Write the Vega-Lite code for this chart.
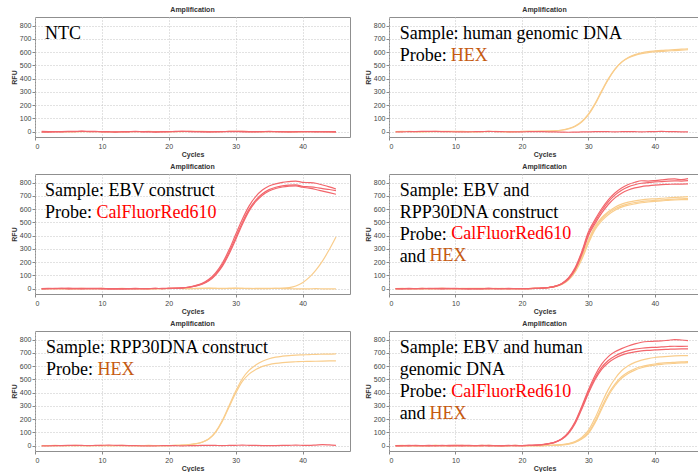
{
"$schema":"https://vega.github.io/schema/vega-lite/v6.json",
"background":"white",
"padding":{"left":9,"top":5,"right":0,"bottom":0},
"config":{
"font":"Liberation Sans",
"view":{"stroke":"#8f8f8f"},
"axis":{"labelFont":"Liberation Sans","labelFontSize":7,"labelColor":"#444444","labelOverlap":false,"titleFont":"Liberation Sans","titleFontSize":7,"titleFontWeight":"bold","titleColor":"#333333","tickColor":"#888888","tickSize":3,"domain":false,"gridColor":"#c4c4c4","gridDash":[1,2],"labelPadding":2,"titlePadding":1},
"axisY":{"labelPadding":1,"titlePadding":2},
"title":{"fontSize":7,"fontWeight":"bold","color":"#333333","offset":4,"font":"Liberation Sans"},
"line":{"strokeWidth":1.2,"interpolate":"monotone","clip":true},
"text":{"font":"Liberation Serif","fontSize":18,"align":"left","baseline":"alphabetic","lineBreak":"\n","lineHeight":22}
},
"datasets":{
"p1":[
{"s":"y1","c":1,"v":-2},{"s":"y1","c":2,"v":-1},{"s":"y1","c":3,"v":0},{"s":"y1","c":4,"v":-1},{"s":"y1","c":5,"v":-2},{"s":"y1","c":6,"v":-1},{"s":"y1","c":7,"v":0},{"s":"y1","c":8,"v":1},{"s":"y1","c":9,"v":0},{"s":"y1","c":10,"v":-1},{"s":"y1","c":11,"v":-2},{"s":"y1","c":12,"v":-3},{"s":"y1","c":13,"v":-2},{"s":"y1","c":14,"v":-1},{"s":"y1","c":15,"v":0},{"s":"y1","c":16,"v":1},{"s":"y1","c":17,"v":2},{"s":"y1","c":18,"v":1},{"s":"y1","c":19,"v":0},{"s":"y1","c":20,"v":-1},{"s":"y1","c":21,"v":0},{"s":"y1","c":22,"v":1},{"s":"y1","c":23,"v":2},{"s":"y1","c":24,"v":3},{"s":"y1","c":25,"v":2},{"s":"y1","c":26,"v":1},{"s":"y1","c":27,"v":0},{"s":"y1","c":28,"v":1},{"s":"y1","c":29,"v":2},{"s":"y1","c":30,"v":3},{"s":"y1","c":31,"v":2},{"s":"y1","c":32,"v":1},{"s":"y1","c":33,"v":0},{"s":"y1","c":34,"v":-1},{"s":"y1","c":35,"v":0},{"s":"y1","c":36,"v":1},{"s":"y1","c":37,"v":0},{"s":"y1","c":38,"v":-1},{"s":"y1","c":39,"v":-2},{"s":"y1","c":40,"v":-1},{"s":"y1","c":41,"v":0},{"s":"y1","c":42,"v":1},{"s":"y1","c":43,"v":0},{"s":"y1","c":44,"v":-1},{"s":"y1","c":45,"v":-2},
{"s":"r1","c":1,"v":-4},{"s":"r1","c":2,"v":-3},{"s":"r1","c":3,"v":-2},{"s":"r1","c":4,"v":-1},{"s":"r1","c":5,"v":0},{"s":"r1","c":6,"v":1},{"s":"r1","c":7,"v":2},{"s":"r1","c":8,"v":1},{"s":"r1","c":9,"v":0},{"s":"r1","c":10,"v":-1},{"s":"r1","c":11,"v":-2},{"s":"r1","c":12,"v":-3},{"s":"r1","c":13,"v":-2},{"s":"r1","c":14,"v":-1},{"s":"r1","c":15,"v":0},{"s":"r1","c":16,"v":-1},{"s":"r1","c":17,"v":-2},{"s":"r1","c":18,"v":-3},{"s":"r1","c":19,"v":-2},{"s":"r1","c":20,"v":0},{"s":"r1","c":21,"v":1},{"s":"r1","c":22,"v":2},{"s":"r1","c":23,"v":1},{"s":"r1","c":24,"v":0},{"s":"r1","c":25,"v":-1},{"s":"r1","c":26,"v":-2},{"s":"r1","c":27,"v":-1},{"s":"r1","c":28,"v":0},{"s":"r1","c":29,"v":1},{"s":"r1","c":30,"v":0},{"s":"r1","c":31,"v":-1},{"s":"r1","c":32,"v":-2},{"s":"r1","c":33,"v":-1},{"s":"r1","c":34,"v":0},{"s":"r1","c":35,"v":1},{"s":"r1","c":36,"v":0},{"s":"r1","c":37,"v":-1},{"s":"r1","c":38,"v":-2},{"s":"r1","c":39,"v":-1},{"s":"r1","c":40,"v":0},{"s":"r1","c":41,"v":1},{"s":"r1","c":42,"v":0},{"s":"r1","c":43,"v":-1},{"s":"r1","c":44,"v":-2},{"s":"r1","c":45,"v":-3},
{"s":"r2","c":1,"v":2},{"s":"r2","c":2,"v":1},{"s":"r2","c":3,"v":0},{"s":"r2","c":4,"v":1},{"s":"r2","c":5,"v":2},{"s":"r2","c":6,"v":3},{"s":"r2","c":7,"v":4},{"s":"r2","c":8,"v":3},{"s":"r2","c":9,"v":2},{"s":"r2","c":10,"v":1},{"s":"r2","c":11,"v":0},{"s":"r2","c":12,"v":-1},{"s":"r2","c":13,"v":0},{"s":"r2","c":14,"v":1},{"s":"r2","c":15,"v":2},{"s":"r2","c":16,"v":1},{"s":"r2","c":17,"v":0},{"s":"r2","c":18,"v":-1},{"s":"r2","c":19,"v":0},{"s":"r2","c":20,"v":1},{"s":"r2","c":21,"v":2},{"s":"r2","c":22,"v":3},{"s":"r2","c":23,"v":2},{"s":"r2","c":24,"v":1},{"s":"r2","c":25,"v":0},{"s":"r2","c":26,"v":-1},{"s":"r2","c":27,"v":0},{"s":"r2","c":28,"v":1},{"s":"r2","c":29,"v":2},{"s":"r2","c":30,"v":3},{"s":"r2","c":31,"v":2},{"s":"r2","c":32,"v":1},{"s":"r2","c":33,"v":0},{"s":"r2","c":34,"v":1},{"s":"r2","c":35,"v":2},{"s":"r2","c":36,"v":1},{"s":"r2","c":37,"v":0},{"s":"r2","c":38,"v":-1},{"s":"r2","c":39,"v":0},{"s":"r2","c":40,"v":1},{"s":"r2","c":41,"v":0},{"s":"r2","c":42,"v":-1},{"s":"r2","c":43,"v":0},{"s":"r2","c":44,"v":1},{"s":"r2","c":45,"v":0}
],
"p2":[
{"s":"y1","c":1,"v":1},{"s":"y1","c":2,"v":2},{"s":"y1","c":3,"v":1},{"s":"y1","c":4,"v":0},{"s":"y1","c":5,"v":-1},{"s":"y1","c":6,"v":0},{"s":"y1","c":7,"v":1},{"s":"y1","c":8,"v":2},{"s":"y1","c":9,"v":3},{"s":"y1","c":10,"v":2},{"s":"y1","c":11,"v":1},{"s":"y1","c":12,"v":0},{"s":"y1","c":13,"v":-1},{"s":"y1","c":14,"v":0},{"s":"y1","c":15,"v":1},{"s":"y1","c":16,"v":2},{"s":"y1","c":17,"v":1},{"s":"y1","c":18,"v":0},{"s":"y1","c":19,"v":1},{"s":"y1","c":20,"v":2},{"s":"y1","c":21,"v":3},{"s":"y1","c":22,"v":2},{"s":"y1","c":23,"v":3},{"s":"y1","c":24,"v":4},{"s":"y1","c":25,"v":6},{"s":"y1","c":26,"v":11},{"s":"y1","c":27,"v":21},{"s":"y1","c":28,"v":39},{"s":"y1","c":29,"v":72},{"s":"y1","c":30,"v":126},{"s":"y1","c":31,"v":205},{"s":"y1","c":32,"v":302},{"s":"y1","c":33,"v":394},{"s":"y1","c":34,"v":470},{"s":"y1","c":35,"v":525},{"s":"y1","c":36,"v":559},{"s":"y1","c":37,"v":581},{"s":"y1","c":38,"v":595},{"s":"y1","c":39,"v":604},{"s":"y1","c":40,"v":609},{"s":"y1","c":41,"v":613},{"s":"y1","c":42,"v":616},{"s":"y1","c":43,"v":619},{"s":"y1","c":44,"v":622},{"s":"y1","c":45,"v":625},
{"s":"y2","c":1,"v":0},{"s":"y2","c":2,"v":1},{"s":"y2","c":3,"v":2},{"s":"y2","c":4,"v":1},{"s":"y2","c":5,"v":0},{"s":"y2","c":6,"v":1},{"s":"y2","c":7,"v":2},{"s":"y2","c":8,"v":1},{"s":"y2","c":9,"v":0},{"s":"y2","c":10,"v":1},{"s":"y2","c":11,"v":2},{"s":"y2","c":12,"v":1},{"s":"y2","c":13,"v":0},{"s":"y2","c":14,"v":1},{"s":"y2","c":15,"v":2},{"s":"y2","c":16,"v":1},{"s":"y2","c":17,"v":0},{"s":"y2","c":18,"v":-1},{"s":"y2","c":19,"v":0},{"s":"y2","c":20,"v":1},{"s":"y2","c":21,"v":2},{"s":"y2","c":22,"v":3},{"s":"y2","c":23,"v":4},{"s":"y2","c":24,"v":5},{"s":"y2","c":25,"v":7},{"s":"y2","c":26,"v":13},{"s":"y2","c":27,"v":24},{"s":"y2","c":28,"v":43},{"s":"y2","c":29,"v":78},{"s":"y2","c":30,"v":133},{"s":"y2","c":31,"v":212},{"s":"y2","c":32,"v":308},{"s":"y2","c":33,"v":398},{"s":"y2","c":34,"v":472},{"s":"y2","c":35,"v":524},{"s":"y2","c":36,"v":556},{"s":"y2","c":37,"v":576},{"s":"y2","c":38,"v":589},{"s":"y2","c":39,"v":597},{"s":"y2","c":40,"v":602},{"s":"y2","c":41,"v":606},{"s":"y2","c":42,"v":609},{"s":"y2","c":43,"v":612},{"s":"y2","c":44,"v":615},{"s":"y2","c":45,"v":618},
{"s":"r1","c":1,"v":-2},{"s":"r1","c":2,"v":-1},{"s":"r1","c":3,"v":0},{"s":"r1","c":4,"v":1},{"s":"r1","c":5,"v":2},{"s":"r1","c":6,"v":3},{"s":"r1","c":7,"v":2},{"s":"r1","c":8,"v":1},{"s":"r1","c":9,"v":0},{"s":"r1","c":10,"v":-1},{"s":"r1","c":11,"v":-2},{"s":"r1","c":12,"v":-1},{"s":"r1","c":13,"v":0},{"s":"r1","c":14,"v":1},{"s":"r1","c":15,"v":2},{"s":"r1","c":16,"v":1},{"s":"r1","c":17,"v":0},{"s":"r1","c":18,"v":-1},{"s":"r1","c":19,"v":-2},{"s":"r1","c":20,"v":-1},{"s":"r1","c":21,"v":0},{"s":"r1","c":22,"v":1},{"s":"r1","c":23,"v":0},{"s":"r1","c":24,"v":-1},{"s":"r1","c":25,"v":-2},{"s":"r1","c":26,"v":-3},{"s":"r1","c":27,"v":-4},{"s":"r1","c":28,"v":-3},{"s":"r1","c":29,"v":-2},{"s":"r1","c":30,"v":-1},{"s":"r1","c":31,"v":0},{"s":"r1","c":32,"v":1},{"s":"r1","c":33,"v":0},{"s":"r1","c":34,"v":-1},{"s":"r1","c":35,"v":0},{"s":"r1","c":36,"v":1},{"s":"r1","c":37,"v":0},{"s":"r1","c":38,"v":-1},{"s":"r1","c":39,"v":0},{"s":"r1","c":40,"v":1},{"s":"r1","c":41,"v":2},{"s":"r1","c":42,"v":1},{"s":"r1","c":43,"v":0},{"s":"r1","c":44,"v":-1},{"s":"r1","c":45,"v":-2}
],
"p3":[
{"s":"y1","c":1,"v":0},{"s":"y1","c":2,"v":1},{"s":"y1","c":3,"v":0},{"s":"y1","c":4,"v":-1},{"s":"y1","c":5,"v":0},{"s":"y1","c":6,"v":1},{"s":"y1","c":7,"v":2},{"s":"y1","c":8,"v":1},{"s":"y1","c":9,"v":0},{"s":"y1","c":10,"v":-1},{"s":"y1","c":11,"v":0},{"s":"y1","c":12,"v":1},{"s":"y1","c":13,"v":2},{"s":"y1","c":14,"v":1},{"s":"y1","c":15,"v":0},{"s":"y1","c":16,"v":-1},{"s":"y1","c":17,"v":-2},{"s":"y1","c":18,"v":-1},{"s":"y1","c":19,"v":0},{"s":"y1","c":20,"v":1},{"s":"y1","c":21,"v":2},{"s":"y1","c":22,"v":1},{"s":"y1","c":23,"v":0},{"s":"y1","c":24,"v":1},{"s":"y1","c":25,"v":2},{"s":"y1","c":26,"v":3},{"s":"y1","c":27,"v":2},{"s":"y1","c":28,"v":1},{"s":"y1","c":29,"v":2},{"s":"y1","c":30,"v":3},{"s":"y1","c":31,"v":2},{"s":"y1","c":32,"v":1},{"s":"y1","c":33,"v":2},{"s":"y1","c":34,"v":3},{"s":"y1","c":35,"v":2},{"s":"y1","c":36,"v":3},{"s":"y1","c":37,"v":4},{"s":"y1","c":38,"v":8},{"s":"y1","c":39,"v":20},{"s":"y1","c":40,"v":45},{"s":"y1","c":41,"v":85},{"s":"y1","c":42,"v":140},{"s":"y1","c":43,"v":210},{"s":"y1","c":44,"v":295},{"s":"y1","c":45,"v":390},
{"s":"y2","c":1,"v":-1},{"s":"y2","c":2,"v":0},{"s":"y2","c":3,"v":1},{"s":"y2","c":4,"v":0},{"s":"y2","c":5,"v":-1},{"s":"y2","c":6,"v":-2},{"s":"y2","c":7,"v":-1},{"s":"y2","c":8,"v":0},{"s":"y2","c":9,"v":1},{"s":"y2","c":10,"v":2},{"s":"y2","c":11,"v":1},{"s":"y2","c":12,"v":0},{"s":"y2","c":13,"v":-1},{"s":"y2","c":14,"v":0},{"s":"y2","c":15,"v":1},{"s":"y2","c":16,"v":0},{"s":"y2","c":17,"v":-1},{"s":"y2","c":18,"v":0},{"s":"y2","c":19,"v":1},{"s":"y2","c":20,"v":2},{"s":"y2","c":21,"v":3},{"s":"y2","c":22,"v":2},{"s":"y2","c":23,"v":1},{"s":"y2","c":24,"v":2},{"s":"y2","c":25,"v":3},{"s":"y2","c":26,"v":4},{"s":"y2","c":27,"v":3},{"s":"y2","c":28,"v":2},{"s":"y2","c":29,"v":3},{"s":"y2","c":30,"v":4},{"s":"y2","c":31,"v":3},{"s":"y2","c":32,"v":2},{"s":"y2","c":33,"v":1},{"s":"y2","c":34,"v":0},{"s":"y2","c":35,"v":1},{"s":"y2","c":36,"v":2},{"s":"y2","c":37,"v":1},{"s":"y2","c":38,"v":0},{"s":"y2","c":39,"v":-1},{"s":"y2","c":40,"v":-2},{"s":"y2","c":41,"v":-1},{"s":"y2","c":42,"v":0},{"s":"y2","c":43,"v":-1},{"s":"y2","c":44,"v":-2},{"s":"y2","c":45,"v":-1},
{"s":"r1","c":1,"v":0},{"s":"r1","c":2,"v":1},{"s":"r1","c":3,"v":2},{"s":"r1","c":4,"v":3},{"s":"r1","c":5,"v":4},{"s":"r1","c":6,"v":3},{"s":"r1","c":7,"v":2},{"s":"r1","c":8,"v":1},{"s":"r1","c":9,"v":0},{"s":"r1","c":10,"v":-1},{"s":"r1","c":11,"v":-2},{"s":"r1","c":12,"v":-1},{"s":"r1","c":13,"v":0},{"s":"r1","c":14,"v":1},{"s":"r1","c":15,"v":2},{"s":"r1","c":16,"v":1},{"s":"r1","c":17,"v":0},{"s":"r1","c":18,"v":1},{"s":"r1","c":19,"v":2},{"s":"r1","c":20,"v":3},{"s":"r1","c":21,"v":4},{"s":"r1","c":22,"v":7},{"s":"r1","c":23,"v":13},{"s":"r1","c":24,"v":24},{"s":"r1","c":25,"v":41},{"s":"r1","c":26,"v":71},{"s":"r1","c":27,"v":120},{"s":"r1","c":28,"v":192},{"s":"r1","c":29,"v":291},{"s":"r1","c":30,"v":408},{"s":"r1","c":31,"v":524},{"s":"r1","c":32,"v":623},{"s":"r1","c":33,"v":695},{"s":"r1","c":34,"v":744},{"s":"r1","c":35,"v":774},{"s":"r1","c":36,"v":791},{"s":"r1","c":37,"v":802},{"s":"r1","c":38,"v":808},{"s":"r1","c":39,"v":812},{"s":"r1","c":40,"v":802},{"s":"r1","c":41,"v":800},{"s":"r1","c":42,"v":795},{"s":"r1","c":43,"v":782},{"s":"r1","c":44,"v":768},{"s":"r1","c":45,"v":752},
{"s":"r2","c":1,"v":1},{"s":"r2","c":2,"v":2},{"s":"r2","c":3,"v":1},{"s":"r2","c":4,"v":0},{"s":"r2","c":5,"v":-1},{"s":"r2","c":6,"v":0},{"s":"r2","c":7,"v":1},{"s":"r2","c":8,"v":2},{"s":"r2","c":9,"v":3},{"s":"r2","c":10,"v":2},{"s":"r2","c":11,"v":1},{"s":"r2","c":12,"v":0},{"s":"r2","c":13,"v":-1},{"s":"r2","c":14,"v":-2},{"s":"r2","c":15,"v":-1},{"s":"r2","c":16,"v":0},{"s":"r2","c":17,"v":1},{"s":"r2","c":18,"v":2},{"s":"r2","c":19,"v":1},{"s":"r2","c":20,"v":2},{"s":"r2","c":21,"v":3},{"s":"r2","c":22,"v":6},{"s":"r2","c":23,"v":11},{"s":"r2","c":24,"v":21},{"s":"r2","c":25,"v":37},{"s":"r2","c":26,"v":64},{"s":"r2","c":27,"v":110},{"s":"r2","c":28,"v":178},{"s":"r2","c":29,"v":273},{"s":"r2","c":30,"v":385},{"s":"r2","c":31,"v":500},{"s":"r2","c":32,"v":598},{"s":"r2","c":33,"v":668},{"s":"r2","c":34,"v":716},{"s":"r2","c":35,"v":747},{"s":"r2","c":36,"v":765},{"s":"r2","c":37,"v":775},{"s":"r2","c":38,"v":781},{"s":"r2","c":39,"v":783},{"s":"r2","c":40,"v":772},{"s":"r2","c":41,"v":768},{"s":"r2","c":42,"v":763},{"s":"r2","c":43,"v":755},{"s":"r2","c":44,"v":748},{"s":"r2","c":45,"v":740},
{"s":"r3","c":1,"v":-1},{"s":"r3","c":2,"v":0},{"s":"r3","c":3,"v":1},{"s":"r3","c":4,"v":2},{"s":"r3","c":5,"v":1},{"s":"r3","c":6,"v":0},{"s":"r3","c":7,"v":-1},{"s":"r3","c":8,"v":0},{"s":"r3","c":9,"v":1},{"s":"r3","c":10,"v":0},{"s":"r3","c":11,"v":-1},{"s":"r3","c":12,"v":-2},{"s":"r3","c":13,"v":-1},{"s":"r3","c":14,"v":0},{"s":"r3","c":15,"v":1},{"s":"r3","c":16,"v":0},{"s":"r3","c":17,"v":1},{"s":"r3","c":18,"v":2},{"s":"r3","c":19,"v":1},{"s":"r3","c":20,"v":2},{"s":"r3","c":21,"v":3},{"s":"r3","c":22,"v":5},{"s":"r3","c":23,"v":10},{"s":"r3","c":24,"v":19},{"s":"r3","c":25,"v":34},{"s":"r3","c":26,"v":59},{"s":"r3","c":27,"v":103},{"s":"r3","c":28,"v":168},{"s":"r3","c":29,"v":260},{"s":"r3","c":30,"v":370},{"s":"r3","c":31,"v":485},{"s":"r3","c":32,"v":585},{"s":"r3","c":33,"v":656},{"s":"r3","c":34,"v":705},{"s":"r3","c":35,"v":737},{"s":"r3","c":36,"v":756},{"s":"r3","c":37,"v":767},{"s":"r3","c":38,"v":773},{"s":"r3","c":39,"v":776},{"s":"r3","c":40,"v":765},{"s":"r3","c":41,"v":758},{"s":"r3","c":42,"v":748},{"s":"r3","c":43,"v":736},{"s":"r3","c":44,"v":724},{"s":"r3","c":45,"v":712}
],
"p4":[
{"s":"y1","c":1,"v":1},{"s":"y1","c":2,"v":2},{"s":"y1","c":3,"v":1},{"s":"y1","c":4,"v":0},{"s":"y1","c":5,"v":-1},{"s":"y1","c":6,"v":0},{"s":"y1","c":7,"v":1},{"s":"y1","c":8,"v":2},{"s":"y1","c":9,"v":1},{"s":"y1","c":10,"v":0},{"s":"y1","c":11,"v":1},{"s":"y1","c":12,"v":2},{"s":"y1","c":13,"v":3},{"s":"y1","c":14,"v":2},{"s":"y1","c":15,"v":1},{"s":"y1","c":16,"v":0},{"s":"y1","c":17,"v":-1},{"s":"y1","c":18,"v":0},{"s":"y1","c":19,"v":1},{"s":"y1","c":20,"v":0},{"s":"y1","c":21,"v":1},{"s":"y1","c":22,"v":2},{"s":"y1","c":23,"v":4},{"s":"y1","c":24,"v":9},{"s":"y1","c":25,"v":18},{"s":"y1","c":26,"v":36},{"s":"y1","c":27,"v":75},{"s":"y1","c":28,"v":140},{"s":"y1","c":29,"v":240},{"s":"y1","c":30,"v":365},{"s":"y1","c":31,"v":470},{"s":"y1","c":32,"v":535},{"s":"y1","c":33,"v":580},{"s":"y1","c":34,"v":615},{"s":"y1","c":35,"v":638},{"s":"y1","c":36,"v":653},{"s":"y1","c":37,"v":663},{"s":"y1","c":38,"v":670},{"s":"y1","c":39,"v":675},{"s":"y1","c":40,"v":678},{"s":"y1","c":41,"v":682},{"s":"y1","c":42,"v":685},{"s":"y1","c":43,"v":688},{"s":"y1","c":44,"v":691},{"s":"y1","c":45,"v":694},
{"s":"y2","c":1,"v":0},{"s":"y2","c":2,"v":1},{"s":"y2","c":3,"v":0},{"s":"y2","c":4,"v":1},{"s":"y2","c":5,"v":2},{"s":"y2","c":6,"v":1},{"s":"y2","c":7,"v":0},{"s":"y2","c":8,"v":-1},{"s":"y2","c":9,"v":0},{"s":"y2","c":10,"v":1},{"s":"y2","c":11,"v":2},{"s":"y2","c":12,"v":1},{"s":"y2","c":13,"v":0},{"s":"y2","c":14,"v":-1},{"s":"y2","c":15,"v":0},{"s":"y2","c":16,"v":1},{"s":"y2","c":17,"v":2},{"s":"y2","c":18,"v":1},{"s":"y2","c":19,"v":0},{"s":"y2","c":20,"v":1},{"s":"y2","c":21,"v":1},{"s":"y2","c":22,"v":2},{"s":"y2","c":23,"v":4},{"s":"y2","c":24,"v":8},{"s":"y2","c":25,"v":17},{"s":"y2","c":26,"v":34},{"s":"y2","c":27,"v":70},{"s":"y2","c":28,"v":132},{"s":"y2","c":29,"v":230},{"s":"y2","c":30,"v":352},{"s":"y2","c":31,"v":458},{"s":"y2","c":32,"v":525},{"s":"y2","c":33,"v":570},{"s":"y2","c":34,"v":603},{"s":"y2","c":35,"v":625},{"s":"y2","c":36,"v":640},{"s":"y2","c":37,"v":650},{"s":"y2","c":38,"v":657},{"s":"y2","c":39,"v":662},{"s":"y2","c":40,"v":666},{"s":"y2","c":41,"v":670},{"s":"y2","c":42,"v":673},{"s":"y2","c":43,"v":676},{"s":"y2","c":44,"v":678},{"s":"y2","c":45,"v":680},
{"s":"y3","c":1,"v":-1},{"s":"y3","c":2,"v":0},{"s":"y3","c":3,"v":1},{"s":"y3","c":4,"v":0},{"s":"y3","c":5,"v":-1},{"s":"y3","c":6,"v":0},{"s":"y3","c":7,"v":1},{"s":"y3","c":8,"v":2},{"s":"y3","c":9,"v":1},{"s":"y3","c":10,"v":0},{"s":"y3","c":11,"v":-1},{"s":"y3","c":12,"v":0},{"s":"y3","c":13,"v":1},{"s":"y3","c":14,"v":0},{"s":"y3","c":15,"v":1},{"s":"y3","c":16,"v":2},{"s":"y3","c":17,"v":1},{"s":"y3","c":18,"v":0},{"s":"y3","c":19,"v":1},{"s":"y3","c":20,"v":0},{"s":"y3","c":21,"v":1},{"s":"y3","c":22,"v":2},{"s":"y3","c":23,"v":3},{"s":"y3","c":24,"v":7},{"s":"y3","c":25,"v":15},{"s":"y3","c":26,"v":31},{"s":"y3","c":27,"v":65},{"s":"y3","c":28,"v":125},{"s":"y3","c":29,"v":220},{"s":"y3","c":30,"v":340},{"s":"y3","c":31,"v":445},{"s":"y3","c":32,"v":512},{"s":"y3","c":33,"v":558},{"s":"y3","c":34,"v":592},{"s":"y3","c":35,"v":615},{"s":"y3","c":36,"v":630},{"s":"y3","c":37,"v":640},{"s":"y3","c":38,"v":648},{"s":"y3","c":39,"v":654},{"s":"y3","c":40,"v":659},{"s":"y3","c":41,"v":663},{"s":"y3","c":42,"v":666},{"s":"y3","c":43,"v":669},{"s":"y3","c":44,"v":671},{"s":"y3","c":45,"v":672},
{"s":"r1","c":1,"v":0},{"s":"r1","c":2,"v":1},{"s":"r1","c":3,"v":2},{"s":"r1","c":4,"v":1},{"s":"r1","c":5,"v":0},{"s":"r1","c":6,"v":1},{"s":"r1","c":7,"v":2},{"s":"r1","c":8,"v":3},{"s":"r1","c":9,"v":2},{"s":"r1","c":10,"v":1},{"s":"r1","c":11,"v":0},{"s":"r1","c":12,"v":-1},{"s":"r1","c":13,"v":0},{"s":"r1","c":14,"v":1},{"s":"r1","c":15,"v":2},{"s":"r1","c":16,"v":1},{"s":"r1","c":17,"v":0},{"s":"r1","c":18,"v":-1},{"s":"r1","c":19,"v":0},{"s":"r1","c":20,"v":1},{"s":"r1","c":21,"v":1},{"s":"r1","c":22,"v":2},{"s":"r1","c":23,"v":4},{"s":"r1","c":24,"v":9},{"s":"r1","c":25,"v":19},{"s":"r1","c":26,"v":40},{"s":"r1","c":27,"v":81},{"s":"r1","c":28,"v":157},{"s":"r1","c":29,"v":278},{"s":"r1","c":30,"v":427},{"s":"r1","c":31,"v":521},{"s":"r1","c":32,"v":603},{"s":"r1","c":33,"v":670},{"s":"r1","c":34,"v":722},{"s":"r1","c":35,"v":760},{"s":"r1","c":36,"v":786},{"s":"r1","c":37,"v":803},{"s":"r1","c":38,"v":814},{"s":"r1","c":39,"v":812},{"s":"r1","c":40,"v":815},{"s":"r1","c":41,"v":820},{"s":"r1","c":42,"v":826},{"s":"r1","c":43,"v":828},{"s":"r1","c":44,"v":822},{"s":"r1","c":45,"v":830},
{"s":"r2","c":1,"v":1},{"s":"r2","c":2,"v":0},{"s":"r2","c":3,"v":-1},{"s":"r2","c":4,"v":0},{"s":"r2","c":5,"v":1},{"s":"r2","c":6,"v":2},{"s":"r2","c":7,"v":1},{"s":"r2","c":8,"v":0},{"s":"r2","c":9,"v":1},{"s":"r2","c":10,"v":2},{"s":"r2","c":11,"v":1},{"s":"r2","c":12,"v":0},{"s":"r2","c":13,"v":-1},{"s":"r2","c":14,"v":-2},{"s":"r2","c":15,"v":-1},{"s":"r2","c":16,"v":0},{"s":"r2","c":17,"v":1},{"s":"r2","c":18,"v":2},{"s":"r2","c":19,"v":1},{"s":"r2","c":20,"v":0},{"s":"r2","c":21,"v":1},{"s":"r2","c":22,"v":2},{"s":"r2","c":23,"v":4},{"s":"r2","c":24,"v":8},{"s":"r2","c":25,"v":18},{"s":"r2","c":26,"v":38},{"s":"r2","c":27,"v":77},{"s":"r2","c":28,"v":150},{"s":"r2","c":29,"v":268},{"s":"r2","c":30,"v":412},{"s":"r2","c":31,"v":505},{"s":"r2","c":32,"v":588},{"s":"r2","c":33,"v":655},{"s":"r2","c":34,"v":706},{"s":"r2","c":35,"v":743},{"s":"r2","c":36,"v":768},{"s":"r2","c":37,"v":784},{"s":"r2","c":38,"v":795},{"s":"r2","c":39,"v":800},{"s":"r2","c":40,"v":805},{"s":"r2","c":41,"v":808},{"s":"r2","c":42,"v":812},{"s":"r2","c":43,"v":813},{"s":"r2","c":44,"v":812},{"s":"r2","c":45,"v":815},
{"s":"r3","c":1,"v":0},{"s":"r3","c":2,"v":-1},{"s":"r3","c":3,"v":0},{"s":"r3","c":4,"v":1},{"s":"r3","c":5,"v":2},{"s":"r3","c":6,"v":1},{"s":"r3","c":7,"v":0},{"s":"r3","c":8,"v":-1},{"s":"r3","c":9,"v":0},{"s":"r3","c":10,"v":1},{"s":"r3","c":11,"v":0},{"s":"r3","c":12,"v":-1},{"s":"r3","c":13,"v":0},{"s":"r3","c":14,"v":1},{"s":"r3","c":15,"v":2},{"s":"r3","c":16,"v":1},{"s":"r3","c":17,"v":0},{"s":"r3","c":18,"v":1},{"s":"r3","c":19,"v":0},{"s":"r3","c":20,"v":1},{"s":"r3","c":21,"v":1},{"s":"r3","c":22,"v":2},{"s":"r3","c":23,"v":4},{"s":"r3","c":24,"v":8},{"s":"r3","c":25,"v":17},{"s":"r3","c":26,"v":35},{"s":"r3","c":27,"v":73},{"s":"r3","c":28,"v":142},{"s":"r3","c":29,"v":255},{"s":"r3","c":30,"v":398},{"s":"r3","c":31,"v":490},{"s":"r3","c":32,"v":570},{"s":"r3","c":33,"v":635},{"s":"r3","c":34,"v":685},{"s":"r3","c":35,"v":720},{"s":"r3","c":36,"v":744},{"s":"r3","c":37,"v":760},{"s":"r3","c":38,"v":770},{"s":"r3","c":39,"v":776},{"s":"r3","c":40,"v":781},{"s":"r3","c":41,"v":785},{"s":"r3","c":42,"v":787},{"s":"r3","c":43,"v":789},{"s":"r3","c":44,"v":789},{"s":"r3","c":45,"v":790}
],
"p5":[
{"s":"y1","c":1,"v":1},{"s":"y1","c":2,"v":0},{"s":"y1","c":3,"v":-1},{"s":"y1","c":4,"v":0},{"s":"y1","c":5,"v":1},{"s":"y1","c":6,"v":2},{"s":"y1","c":7,"v":1},{"s":"y1","c":8,"v":0},{"s":"y1","c":9,"v":1},{"s":"y1","c":10,"v":2},{"s":"y1","c":11,"v":1},{"s":"y1","c":12,"v":0},{"s":"y1","c":13,"v":-1},{"s":"y1","c":14,"v":0},{"s":"y1","c":15,"v":1},{"s":"y1","c":16,"v":0},{"s":"y1","c":17,"v":-1},{"s":"y1","c":18,"v":0},{"s":"y1","c":19,"v":1},{"s":"y1","c":20,"v":1},{"s":"y1","c":21,"v":2},{"s":"y1","c":22,"v":4},{"s":"y1","c":23,"v":8},{"s":"y1","c":24,"v":15},{"s":"y1","c":25,"v":27},{"s":"y1","c":26,"v":52},{"s":"y1","c":27,"v":105},{"s":"y1","c":28,"v":190},{"s":"y1","c":29,"v":300},{"s":"y1","c":30,"v":410},{"s":"y1","c":31,"v":505},{"s":"y1","c":32,"v":568},{"s":"y1","c":33,"v":608},{"s":"y1","c":34,"v":637},{"s":"y1","c":35,"v":656},{"s":"y1","c":36,"v":668},{"s":"y1","c":37,"v":675},{"s":"y1","c":38,"v":680},{"s":"y1","c":39,"v":683},{"s":"y1","c":40,"v":685},{"s":"y1","c":41,"v":687},{"s":"y1","c":42,"v":689},{"s":"y1","c":43,"v":690},{"s":"y1","c":44,"v":691},{"s":"y1","c":45,"v":692},
{"s":"y2","c":1,"v":0},{"s":"y2","c":2,"v":1},{"s":"y2","c":3,"v":2},{"s":"y2","c":4,"v":1},{"s":"y2","c":5,"v":0},{"s":"y2","c":6,"v":-1},{"s":"y2","c":7,"v":0},{"s":"y2","c":8,"v":1},{"s":"y2","c":9,"v":0},{"s":"y2","c":10,"v":-1},{"s":"y2","c":11,"v":0},{"s":"y2","c":12,"v":1},{"s":"y2","c":13,"v":2},{"s":"y2","c":14,"v":1},{"s":"y2","c":15,"v":0},{"s":"y2","c":16,"v":1},{"s":"y2","c":17,"v":2},{"s":"y2","c":18,"v":1},{"s":"y2","c":19,"v":0},{"s":"y2","c":20,"v":1},{"s":"y2","c":21,"v":2},{"s":"y2","c":22,"v":4},{"s":"y2","c":23,"v":7},{"s":"y2","c":24,"v":14},{"s":"y2","c":25,"v":26},{"s":"y2","c":26,"v":50},{"s":"y2","c":27,"v":100},{"s":"y2","c":28,"v":182},{"s":"y2","c":29,"v":290},{"s":"y2","c":30,"v":395},{"s":"y2","c":31,"v":485},{"s":"y2","c":32,"v":540},{"s":"y2","c":33,"v":574},{"s":"y2","c":34,"v":598},{"s":"y2","c":35,"v":612},{"s":"y2","c":36,"v":621},{"s":"y2","c":37,"v":627},{"s":"y2","c":38,"v":631},{"s":"y2","c":39,"v":633},{"s":"y2","c":40,"v":635},{"s":"y2","c":41,"v":636},{"s":"y2","c":42,"v":637},{"s":"y2","c":43,"v":638},{"s":"y2","c":44,"v":639},{"s":"y2","c":45,"v":640},
{"s":"r1","c":1,"v":-2},{"s":"r1","c":2,"v":-1},{"s":"r1","c":3,"v":0},{"s":"r1","c":4,"v":1},{"s":"r1","c":5,"v":2},{"s":"r1","c":6,"v":3},{"s":"r1","c":7,"v":2},{"s":"r1","c":8,"v":1},{"s":"r1","c":9,"v":2},{"s":"r1","c":10,"v":3},{"s":"r1","c":11,"v":4},{"s":"r1","c":12,"v":3},{"s":"r1","c":13,"v":2},{"s":"r1","c":14,"v":1},{"s":"r1","c":15,"v":0},{"s":"r1","c":16,"v":-1},{"s":"r1","c":17,"v":-2},{"s":"r1","c":18,"v":-1},{"s":"r1","c":19,"v":0},{"s":"r1","c":20,"v":1},{"s":"r1","c":21,"v":0},{"s":"r1","c":22,"v":-1},{"s":"r1","c":23,"v":0},{"s":"r1","c":24,"v":1},{"s":"r1","c":25,"v":2},{"s":"r1","c":26,"v":3},{"s":"r1","c":27,"v":2},{"s":"r1","c":28,"v":1},{"s":"r1","c":29,"v":2},{"s":"r1","c":30,"v":3},{"s":"r1","c":31,"v":4},{"s":"r1","c":32,"v":3},{"s":"r1","c":33,"v":2},{"s":"r1","c":34,"v":1},{"s":"r1","c":35,"v":0},{"s":"r1","c":36,"v":1},{"s":"r1","c":37,"v":2},{"s":"r1","c":38,"v":3},{"s":"r1","c":39,"v":4},{"s":"r1","c":40,"v":3},{"s":"r1","c":41,"v":2},{"s":"r1","c":42,"v":5},{"s":"r1","c":43,"v":8},{"s":"r1","c":44,"v":6},{"s":"r1","c":45,"v":3}
],
"p6":[
{"s":"y1","c":1,"v":0},{"s":"y1","c":2,"v":1},{"s":"y1","c":3,"v":0},{"s":"y1","c":4,"v":-1},{"s":"y1","c":5,"v":0},{"s":"y1","c":6,"v":1},{"s":"y1","c":7,"v":2},{"s":"y1","c":8,"v":1},{"s":"y1","c":9,"v":0},{"s":"y1","c":10,"v":1},{"s":"y1","c":11,"v":2},{"s":"y1","c":12,"v":1},{"s":"y1","c":13,"v":0},{"s":"y1","c":14,"v":-1},{"s":"y1","c":15,"v":0},{"s":"y1","c":16,"v":1},{"s":"y1","c":17,"v":0},{"s":"y1","c":18,"v":1},{"s":"y1","c":19,"v":2},{"s":"y1","c":20,"v":1},{"s":"y1","c":21,"v":0},{"s":"y1","c":22,"v":1},{"s":"y1","c":23,"v":1},{"s":"y1","c":24,"v":2},{"s":"y1","c":25,"v":4},{"s":"y1","c":26,"v":8},{"s":"y1","c":27,"v":16},{"s":"y1","c":28,"v":32},{"s":"y1","c":29,"v":62},{"s":"y1","c":30,"v":115},{"s":"y1","c":31,"v":208},{"s":"y1","c":32,"v":320},{"s":"y1","c":33,"v":425},{"s":"y1","c":34,"v":505},{"s":"y1","c":35,"v":565},{"s":"y1","c":36,"v":603},{"s":"y1","c":37,"v":628},{"s":"y1","c":38,"v":645},{"s":"y1","c":39,"v":657},{"s":"y1","c":40,"v":665},{"s":"y1","c":41,"v":670},{"s":"y1","c":42,"v":674},{"s":"y1","c":43,"v":677},{"s":"y1","c":44,"v":679},{"s":"y1","c":45,"v":680},
{"s":"y2","c":1,"v":1},{"s":"y2","c":2,"v":2},{"s":"y2","c":3,"v":1},{"s":"y2","c":4,"v":0},{"s":"y2","c":5,"v":1},{"s":"y2","c":6,"v":0},{"s":"y2","c":7,"v":-1},{"s":"y2","c":8,"v":0},{"s":"y2","c":9,"v":1},{"s":"y2","c":10,"v":2},{"s":"y2","c":11,"v":1},{"s":"y2","c":12,"v":0},{"s":"y2","c":13,"v":1},{"s":"y2","c":14,"v":2},{"s":"y2","c":15,"v":1},{"s":"y2","c":16,"v":0},{"s":"y2","c":17,"v":-1},{"s":"y2","c":18,"v":0},{"s":"y2","c":19,"v":1},{"s":"y2","c":20,"v":0},{"s":"y2","c":21,"v":1},{"s":"y2","c":22,"v":1},{"s":"y2","c":23,"v":1},{"s":"y2","c":24,"v":2},{"s":"y2","c":25,"v":4},{"s":"y2","c":26,"v":7},{"s":"y2","c":27,"v":14},{"s":"y2","c":28,"v":28},{"s":"y2","c":29,"v":55},{"s":"y2","c":30,"v":100},{"s":"y2","c":31,"v":185},{"s":"y2","c":32,"v":290},{"s":"y2","c":33,"v":390},{"s":"y2","c":34,"v":465},{"s":"y2","c":35,"v":520},{"s":"y2","c":36,"v":556},{"s":"y2","c":37,"v":580},{"s":"y2","c":38,"v":597},{"s":"y2","c":39,"v":608},{"s":"y2","c":40,"v":616},{"s":"y2","c":41,"v":622},{"s":"y2","c":42,"v":626},{"s":"y2","c":43,"v":629},{"s":"y2","c":44,"v":632},{"s":"y2","c":45,"v":634},
{"s":"y3","c":1,"v":0},{"s":"y3","c":2,"v":-1},{"s":"y3","c":3,"v":0},{"s":"y3","c":4,"v":1},{"s":"y3","c":5,"v":0},{"s":"y3","c":6,"v":1},{"s":"y3","c":7,"v":2},{"s":"y3","c":8,"v":1},{"s":"y3","c":9,"v":0},{"s":"y3","c":10,"v":-1},{"s":"y3","c":11,"v":0},{"s":"y3","c":12,"v":1},{"s":"y3","c":13,"v":0},{"s":"y3","c":14,"v":1},{"s":"y3","c":15,"v":2},{"s":"y3","c":16,"v":1},{"s":"y3","c":17,"v":0},{"s":"y3","c":18,"v":1},{"s":"y3","c":19,"v":0},{"s":"y3","c":20,"v":1},{"s":"y3","c":21,"v":1},{"s":"y3","c":22,"v":1},{"s":"y3","c":23,"v":1},{"s":"y3","c":24,"v":2},{"s":"y3","c":25,"v":3},{"s":"y3","c":26,"v":6},{"s":"y3","c":27,"v":12},{"s":"y3","c":28,"v":25},{"s":"y3","c":29,"v":50},{"s":"y3","c":30,"v":92},{"s":"y3","c":31,"v":172},{"s":"y3","c":32,"v":275},{"s":"y3","c":33,"v":375},{"s":"y3","c":34,"v":452},{"s":"y3","c":35,"v":508},{"s":"y3","c":36,"v":545},{"s":"y3","c":37,"v":570},{"s":"y3","c":38,"v":588},{"s":"y3","c":39,"v":600},{"s":"y3","c":40,"v":608},{"s":"y3","c":41,"v":614},{"s":"y3","c":42,"v":618},{"s":"y3","c":43,"v":621},{"s":"y3","c":44,"v":624},{"s":"y3","c":45,"v":626},
{"s":"r1","c":1,"v":0},{"s":"r1","c":2,"v":1},{"s":"r1","c":3,"v":2},{"s":"r1","c":4,"v":1},{"s":"r1","c":5,"v":0},{"s":"r1","c":6,"v":-1},{"s":"r1","c":7,"v":0},{"s":"r1","c":8,"v":1},{"s":"r1","c":9,"v":2},{"s":"r1","c":10,"v":3},{"s":"r1","c":11,"v":2},{"s":"r1","c":12,"v":1},{"s":"r1","c":13,"v":0},{"s":"r1","c":14,"v":1},{"s":"r1","c":15,"v":2},{"s":"r1","c":16,"v":1},{"s":"r1","c":17,"v":0},{"s":"r1","c":18,"v":1},{"s":"r1","c":19,"v":2},{"s":"r1","c":20,"v":1},{"s":"r1","c":21,"v":2},{"s":"r1","c":22,"v":4},{"s":"r1","c":23,"v":8},{"s":"r1","c":24,"v":16},{"s":"r1","c":25,"v":28},{"s":"r1","c":26,"v":52},{"s":"r1","c":27,"v":100},{"s":"r1","c":28,"v":180},{"s":"r1","c":29,"v":295},{"s":"r1","c":30,"v":420},{"s":"r1","c":31,"v":530},{"s":"r1","c":32,"v":615},{"s":"r1","c":33,"v":672},{"s":"r1","c":34,"v":708},{"s":"r1","c":35,"v":732},{"s":"r1","c":36,"v":752},{"s":"r1","c":37,"v":768},{"s":"r1","c":38,"v":780},{"s":"r1","c":39,"v":786},{"s":"r1","c":40,"v":788},{"s":"r1","c":41,"v":790},{"s":"r1","c":42,"v":795},{"s":"r1","c":43,"v":800},{"s":"r1","c":44,"v":797},{"s":"r1","c":45,"v":793},
{"s":"r2","c":1,"v":1},{"s":"r2","c":2,"v":0},{"s":"r2","c":3,"v":-1},{"s":"r2","c":4,"v":0},{"s":"r2","c":5,"v":1},{"s":"r2","c":6,"v":2},{"s":"r2","c":7,"v":1},{"s":"r2","c":8,"v":0},{"s":"r2","c":9,"v":-1},{"s":"r2","c":10,"v":0},{"s":"r2","c":11,"v":1},{"s":"r2","c":12,"v":2},{"s":"r2","c":13,"v":1},{"s":"r2","c":14,"v":0},{"s":"r2","c":15,"v":-1},{"s":"r2","c":16,"v":0},{"s":"r2","c":17,"v":1},{"s":"r2","c":18,"v":2},{"s":"r2","c":19,"v":1},{"s":"r2","c":20,"v":1},{"s":"r2","c":21,"v":2},{"s":"r2","c":22,"v":4},{"s":"r2","c":23,"v":7},{"s":"r2","c":24,"v":15},{"s":"r2","c":25,"v":27},{"s":"r2","c":26,"v":50},{"s":"r2","c":27,"v":96},{"s":"r2","c":28,"v":173},{"s":"r2","c":29,"v":285},{"s":"r2","c":30,"v":405},{"s":"r2","c":31,"v":510},{"s":"r2","c":32,"v":590},{"s":"r2","c":33,"v":642},{"s":"r2","c":34,"v":676},{"s":"r2","c":35,"v":700},{"s":"r2","c":36,"v":717},{"s":"r2","c":37,"v":728},{"s":"r2","c":38,"v":735},{"s":"r2","c":39,"v":740},{"s":"r2","c":40,"v":742},{"s":"r2","c":41,"v":745},{"s":"r2","c":42,"v":748},{"s":"r2","c":43,"v":750},{"s":"r2","c":44,"v":749},{"s":"r2","c":45,"v":750},
{"s":"r3","c":1,"v":-1},{"s":"r3","c":2,"v":0},{"s":"r3","c":3,"v":1},{"s":"r3","c":4,"v":2},{"s":"r3","c":5,"v":1},{"s":"r3","c":6,"v":0},{"s":"r3","c":7,"v":1},{"s":"r3","c":8,"v":2},{"s":"r3","c":9,"v":1},{"s":"r3","c":10,"v":0},{"s":"r3","c":11,"v":-1},{"s":"r3","c":12,"v":0},{"s":"r3","c":13,"v":1},{"s":"r3","c":14,"v":2},{"s":"r3","c":15,"v":1},{"s":"r3","c":16,"v":0},{"s":"r3","c":17,"v":-1},{"s":"r3","c":18,"v":0},{"s":"r3","c":19,"v":1},{"s":"r3","c":20,"v":1},{"s":"r3","c":21,"v":2},{"s":"r3","c":22,"v":3},{"s":"r3","c":23,"v":7},{"s":"r3","c":24,"v":14},{"s":"r3","c":25,"v":25},{"s":"r3","c":26,"v":48},{"s":"r3","c":27,"v":92},{"s":"r3","c":28,"v":166},{"s":"r3","c":29,"v":275},{"s":"r3","c":30,"v":393},{"s":"r3","c":31,"v":497},{"s":"r3","c":32,"v":575},{"s":"r3","c":33,"v":626},{"s":"r3","c":34,"v":660},{"s":"r3","c":35,"v":683},{"s":"r3","c":36,"v":698},{"s":"r3","c":37,"v":708},{"s":"r3","c":38,"v":715},{"s":"r3","c":39,"v":719},{"s":"r3","c":40,"v":722},{"s":"r3","c":41,"v":725},{"s":"r3","c":42,"v":727},{"s":"r3","c":43,"v":729},{"s":"r3","c":44,"v":730},{"s":"r3","c":45,"v":730}
]
},
"spacing":4,
"vconcat":[
{"hconcat":[
{"width":315,"height":120,"title":"Amplification","layer":[
{"data":{"name":"p1"},"mark":"line","encoding":{"x":{"field":"c","type":"quantitative","scale":{"domain":[0,47.1],"nice":false},"axis":{"values":[0,10,20,30,40],"title":"Cycles"}},"y":{"field":"v","type":"quantitative","scale":{"domain":[-40,865],"nice":false,"zero":false},"axis":{"values":[0,100,200,300,400,500,600,700,800],"title":"RFU"}},"color":{"field":"s","type":"nominal","scale":{"domain":["y1","y2","y3","r1","r2","r3"],"range":["#f9cd8c","#f9cd8c","#f9cd8c","#f2666c","#f2666c","#f2666c"]},"legend":null}}},
{"data":{"values":[{"t":"NTC"}]},"mark":{"type":"text","color":"#000000"},"encoding":{"x":{"datum":1.5,"axis":{"values":[0,10,20,30,40],"title":"Cycles"}},"y":{"datum":697,"axis":{"values":[0,100,200,300,400,500,600,700,800],"title":"RFU"}},"text":{"field":"t"}}}
]},
{"width":311,"height":120,"title":"Amplification","layer":[
{"data":{"name":"p2"},"mark":"line","encoding":{"x":{"field":"c","type":"quantitative","scale":{"domain":[0,46.8],"nice":false},"axis":{"values":[0,10,20,30,40],"title":"Cycles"}},"y":{"field":"v","type":"quantitative","scale":{"domain":[-40,865],"nice":false,"zero":false},"axis":{"values":[0,100,200,300,400,500,600,700,800],"title":"RFU"}},"color":{"field":"s","type":"nominal","scale":{"domain":["y1","y2","y3","r1","r2","r3"],"range":["#f9cd8c","#f9cd8c","#f9cd8c","#f2666c","#f2666c","#f2666c"]},"legend":null}}},
{"data":{"values":[{"t":"Sample: human genomic DNA\nProbe:"}]},"mark":{"type":"text","color":"#000000"},"encoding":{"x":{"datum":1.6,"axis":{"values":[0,10,20,30,40],"title":"Cycles"}},"y":{"datum":697,"axis":{"values":[0,100,200,300,400,500,600,700,800],"title":"RFU"}},"text":{"field":"t"}}},
{"data":{"values":[{"t":"HEX"}]},"mark":{"type":"text","color":"#c55a11"},"encoding":{"x":{"datum":9.3,"axis":{"values":[0,10,20,30,40],"title":"Cycles"}},"y":{"datum":532,"axis":{"values":[0,100,200,300,400,500,600,700,800],"title":"RFU"}},"text":{"field":"t"}}}
]}
],"spacing":12},
{"hconcat":[
{"width":315,"height":120,"title":"Amplification","layer":[
{"data":{"name":"p3"},"mark":"line","encoding":{"x":{"field":"c","type":"quantitative","scale":{"domain":[0,47.1],"nice":false},"axis":{"values":[0,10,20,30,40],"title":"Cycles"}},"y":{"field":"v","type":"quantitative","scale":{"domain":[-40,865],"nice":false,"zero":false},"axis":{"values":[0,100,200,300,400,500,600,700,800],"title":"RFU"}},"color":{"field":"s","type":"nominal","scale":{"domain":["y1","y2","y3","r1","r2","r3"],"range":["#f9cd8c","#f9cd8c","#f9cd8c","#f2666c","#f2666c","#f2666c"]},"legend":null}}},
{"data":{"values":[{"t":"Sample: EBV construct\nProbe:"}]},"mark":{"type":"text","color":"#000000"},"encoding":{"x":{"datum":1.5,"axis":{"values":[0,10,20,30,40],"title":"Cycles"}},"y":{"datum":697,"axis":{"values":[0,100,200,300,400,500,600,700,800],"title":"RFU"}},"text":{"field":"t"}}},
{"data":{"values":[{"t":"CalFluorRed610"}]},"mark":{"type":"text","color":"#ff0000"},"encoding":{"x":{"datum":9.2,"axis":{"values":[0,10,20,30,40],"title":"Cycles"}},"y":{"datum":532,"axis":{"values":[0,100,200,300,400,500,600,700,800],"title":"RFU"}},"text":{"field":"t"}}}
]},
{"width":311,"height":120,"title":"Amplification","layer":[
{"data":{"name":"p4"},"mark":"line","encoding":{"x":{"field":"c","type":"quantitative","scale":{"domain":[0,46.8],"nice":false},"axis":{"values":[0,10,20,30,40],"title":"Cycles"}},"y":{"field":"v","type":"quantitative","scale":{"domain":[-40,865],"nice":false,"zero":false},"axis":{"values":[0,100,200,300,400,500,600,700,800],"title":"RFU"}},"color":{"field":"s","type":"nominal","scale":{"domain":["y1","y2","y3","r1","r2","r3"],"range":["#f9cd8c","#f9cd8c","#f9cd8c","#f2666c","#f2666c","#f2666c"]},"legend":null}}},
{"data":{"values":[{"t":"Sample: EBV and\nRPP30DNA construct\nProbe:\nand"}]},"mark":{"type":"text","color":"#000000"},"encoding":{"x":{"datum":1.6,"axis":{"values":[0,10,20,30,40],"title":"Cycles"}},"y":{"datum":702,"axis":{"values":[0,100,200,300,400,500,600,700,800],"title":"RFU"}},"text":{"field":"t"}}},
{"data":{"values":[{"t":"CalFluorRed610"}]},"mark":{"type":"text","color":"#ff0000"},"encoding":{"x":{"datum":9.35,"axis":{"values":[0,10,20,30,40],"title":"Cycles"}},"y":{"datum":372,"axis":{"values":[0,100,200,300,400,500,600,700,800],"title":"RFU"}},"text":{"field":"t"}}},
{"data":{"values":[{"t":"HEX"}]},"mark":{"type":"text","color":"#c55a11"},"encoding":{"x":{"datum":6.1,"axis":{"values":[0,10,20,30,40],"title":"Cycles"}},"y":{"datum":207,"axis":{"values":[0,100,200,300,400,500,600,700,800],"title":"RFU"}},"text":{"field":"t"}}}
]}
],"spacing":12},
{"hconcat":[
{"width":315,"height":120,"title":"Amplification","layer":[
{"data":{"name":"p5"},"mark":"line","encoding":{"x":{"field":"c","type":"quantitative","scale":{"domain":[0,47.1],"nice":false},"axis":{"values":[0,10,20,30,40],"title":"Cycles"}},"y":{"field":"v","type":"quantitative","scale":{"domain":[-40,865],"nice":false,"zero":false},"axis":{"values":[0,100,200,300,400,500,600,700,800],"title":"RFU"}},"color":{"field":"s","type":"nominal","scale":{"domain":["y1","y2","y3","r1","r2","r3"],"range":["#f9cd8c","#f9cd8c","#f9cd8c","#f2666c","#f2666c","#f2666c"]},"legend":null}}},
{"data":{"values":[{"t":"Sample: RPP30DNA construct\nProbe:"}]},"mark":{"type":"text","color":"#000000"},"encoding":{"x":{"datum":1.65,"axis":{"values":[0,10,20,30,40],"title":"Cycles"}},"y":{"datum":697,"axis":{"values":[0,100,200,300,400,500,600,700,800],"title":"RFU"}},"text":{"field":"t"}}},
{"data":{"values":[{"t":"HEX"}]},"mark":{"type":"text","color":"#c55a11"},"encoding":{"x":{"datum":9.35,"axis":{"values":[0,10,20,30,40],"title":"Cycles"}},"y":{"datum":532,"axis":{"values":[0,100,200,300,400,500,600,700,800],"title":"RFU"}},"text":{"field":"t"}}}
]},
{"width":311,"height":120,"title":"Amplification","layer":[
{"data":{"name":"p6"},"mark":"line","encoding":{"x":{"field":"c","type":"quantitative","scale":{"domain":[0,46.8],"nice":false},"axis":{"values":[0,10,20,30,40],"title":"Cycles"}},"y":{"field":"v","type":"quantitative","scale":{"domain":[-40,865],"nice":false,"zero":false},"axis":{"values":[0,100,200,300,400,500,600,700,800],"title":"RFU"}},"color":{"field":"s","type":"nominal","scale":{"domain":["y1","y2","y3","r1","r2","r3"],"range":["#f9cd8c","#f9cd8c","#f9cd8c","#f2666c","#f2666c","#f2666c"]},"legend":null}}},
{"data":{"values":[{"t":"Sample: EBV and human\ngenomic DNA\nProbe:\nand"}]},"mark":{"type":"text","color":"#000000"},"encoding":{"x":{"datum":1.6,"axis":{"values":[0,10,20,30,40],"title":"Cycles"}},"y":{"datum":697,"axis":{"values":[0,100,200,300,400,500,600,700,800],"title":"RFU"}},"text":{"field":"t"}}},
{"data":{"values":[{"t":"CalFluorRed610"}]},"mark":{"type":"text","color":"#ff0000"},"encoding":{"x":{"datum":9.35,"axis":{"values":[0,10,20,30,40],"title":"Cycles"}},"y":{"datum":367,"axis":{"values":[0,100,200,300,400,500,600,700,800],"title":"RFU"}},"text":{"field":"t"}}},
{"data":{"values":[{"t":"HEX"}]},"mark":{"type":"text","color":"#c55a11"},"encoding":{"x":{"datum":6.1,"axis":{"values":[0,10,20,30,40],"title":"Cycles"}},"y":{"datum":202,"axis":{"values":[0,100,200,300,400,500,600,700,800],"title":"RFU"}},"text":{"field":"t"}}}
]}
],"spacing":12}
]
}
